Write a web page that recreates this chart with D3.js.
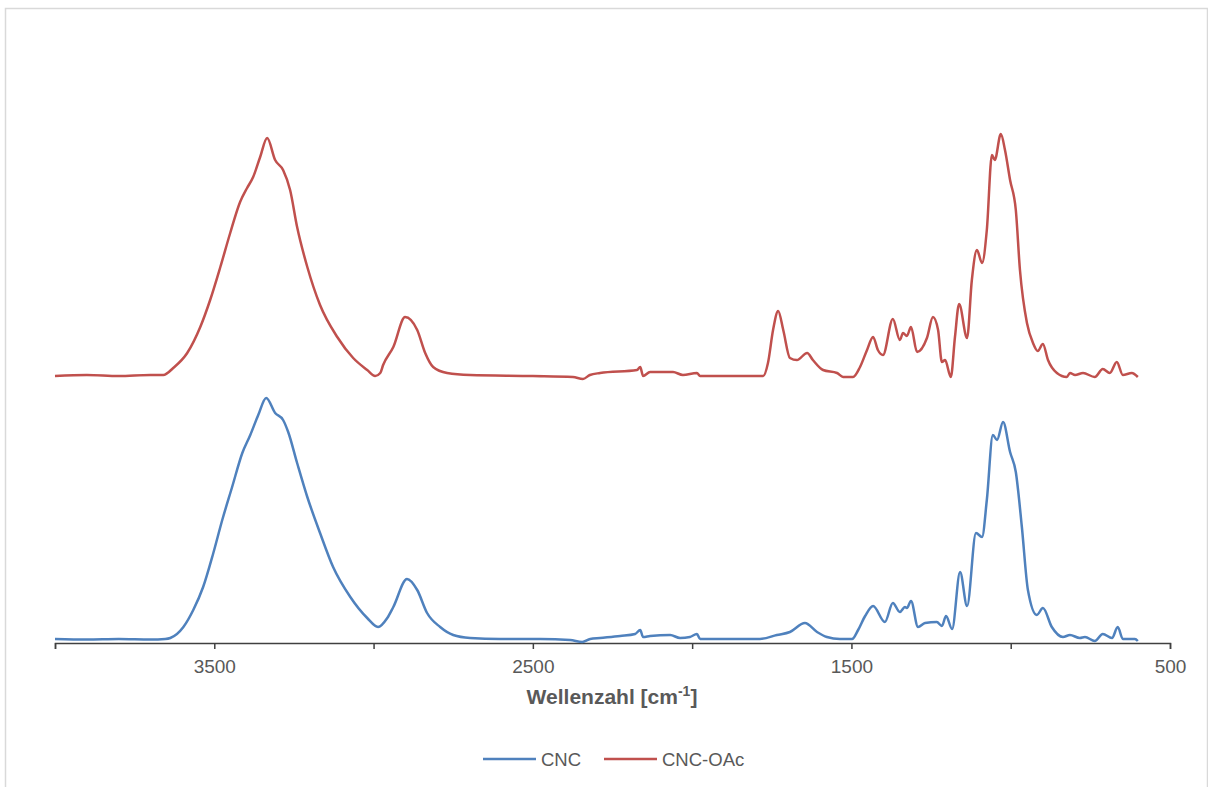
<!DOCTYPE html>
<html>
<head>
<meta charset="utf-8">
<script src="https://cdn.jsdelivr.net/npm/d3@7"></script>
<style>
  body { margin: 0; background: #fff; }
  text { font-family: "Liberation Sans", Arial, sans-serif; }
</style>
</head>
<body>
<script>
// IR spectra, wavenumber [cm-1] and absorbance (CNC-OAc drawn with offset)
var seriesNames = ["CNC", "CNC-OAc"];
var seriesColors = ["#4F81BD", "#C0504D"];

var cncWave = [4000, 3900, 3800, 3700, 3654, 3638, 3597, 3566, 3535, 3503, 3475, 3444, 3412, 3387, 3362, 3337,
  3309, 3284, 3268, 3240, 3208, 3168, 3127, 3073, 3020, 2986, 2957, 2938, 2895, 2863, 2832, 2791, 2750, 2697,
  2603, 2477, 2383, 2345, 2320, 2289, 2226, 2179, 2163, 2154, 2132, 2069, 2038, 2007, 1985, 1975, 1881, 1787,
  1734, 1693, 1646, 1608, 1577, 1536, 1498, 1479, 1457, 1432, 1395, 1370, 1348, 1332, 1326, 1313, 1291, 1269,
  1232, 1216, 1203, 1184, 1159, 1137, 1109, 1090, 1075, 1056, 1043, 1024, 1002, 984, 965, 946, 918, 899, 871,
  836, 814, 783, 767, 736, 711, 682, 664, 648, 610, 601];
var cncAbs = [0.012, 0.011, 0.012, 0.011, 0.012, 0.014, 0.036, 0.070, 0.116, 0.184, 0.250, 0.316, 0.384, 0.420, 0.460, 0.494,
  0.464, 0.450, 0.426, 0.364, 0.296, 0.224, 0.156, 0.096, 0.054, 0.036, 0.054, 0.076, 0.132, 0.110, 0.064, 0.036, 0.020, 0.014,
  0.012, 0.012, 0.010, 0.006, 0.012, 0.014, 0.018, 0.022, 0.030, 0.016, 0.018, 0.020, 0.014, 0.016, 0.022, 0.012, 0.012, 0.012,
  0.020, 0.026, 0.044, 0.026, 0.016, 0.012, 0.012, 0.030, 0.058, 0.078, 0.046, 0.084, 0.066, 0.076, 0.074, 0.088, 0.036, 0.044,
  0.046, 0.038, 0.058, 0.032, 0.146, 0.078, 0.224, 0.216, 0.290, 0.420, 0.410, 0.446, 0.386, 0.346, 0.236, 0.110, 0.060, 0.074, 0.036,
  0.016, 0.020, 0.014, 0.016, 0.008, 0.022, 0.014, 0.036, 0.012, 0.012, 0.008];

var oacWave = [4000, 3900, 3800, 3701, 3660, 3629, 3585, 3544, 3513, 3481, 3450, 3419, 3397, 3378, 3356, 3334,
  3309, 3284, 3262, 3240, 3208, 3168, 3114, 3064, 3020, 2995, 2979, 2970, 2938, 2901, 2863, 2838, 2813, 2769, 2697,
  2500, 2374, 2343, 2321, 2289, 2173, 2163, 2154, 2132, 2060, 2029, 1985, 1975, 1850,
  1777, 1762, 1746, 1730, 1714, 1693, 1671, 1639, 1621, 1589, 1545, 1526, 1495, 1473, 1451, 1432, 1417, 1401,
  1370, 1348, 1338, 1326, 1313, 1294, 1263, 1244, 1228, 1216, 1206, 1188, 1175, 1162, 1137, 1122, 1106, 1090,
  1075, 1059, 1050, 1031, 1018, 1002, 984, 971, 949, 930, 915, 899, 883, 855, 824, 814, 798, 773, 736, 711, 689,
  667, 648, 620, 601];
var oacAbs = [0.538, 0.540, 0.538, 0.540, 0.540, 0.554, 0.584, 0.636, 0.690, 0.756, 0.824, 0.886, 0.914, 0.936, 0.976, 1.014,
  0.970, 0.950, 0.910, 0.836, 0.756, 0.680, 0.616, 0.574, 0.550, 0.538, 0.544, 0.560, 0.596, 0.656, 0.630, 0.584, 0.556, 0.544, 0.540,
  0.538, 0.536, 0.532, 0.540, 0.544, 0.550, 0.556, 0.538, 0.546, 0.546, 0.540, 0.544, 0.538, 0.538,
  0.538, 0.564, 0.630, 0.668, 0.630, 0.574, 0.570, 0.584, 0.570, 0.550, 0.544, 0.536, 0.536, 0.556, 0.590, 0.616, 0.590, 0.580,
  0.652, 0.610, 0.624, 0.618, 0.636, 0.586, 0.614, 0.656, 0.630, 0.566, 0.570, 0.536, 0.616, 0.682, 0.614, 0.730, 0.790, 0.764,
  0.830, 0.980, 0.970, 1.022, 0.990, 0.930, 0.870, 0.750, 0.644, 0.604, 0.588, 0.602, 0.570, 0.544, 0.536, 0.544, 0.540, 0.544, 0.536, 0.552, 0.544,
  0.566, 0.540, 0.544, 0.536];

var xTicks = [4000, 3500, 3000, 2500, 2000, 1500, 1000, 500];
var xLabels = [3500, 2500, 1500, 500];

var width = 1208, height = 787;
var plotLeft = 55, plotRight = 1170, plotBottom = 643;

var svg = d3.select("body").append("svg")
    .attr("width", width)
    .attr("height", height);

// chart frame
svg.append("rect")
    .attr("x", 5.5).attr("y", 8.5)
    .attr("width", 1202).attr("height", 800)
    .attr("fill", "#fff")
    .attr("stroke", "#d9d9d9")
    .attr("stroke-width", 1.5);

var x = d3.scaleLinear().domain([4000, 500]).range([plotLeft, plotRight]);
var y = d3.scaleLinear().domain([0, 1]).range([645, 145]);

var xAxis = d3.axisBottom(x)
    .tickValues(xTicks)
    .tickSize(6)
    .tickFormat(function(d) { return xLabels.indexOf(d) >= 0 ? d : ""; });

var gx = svg.append("g")
    .attr("transform", "translate(0," + plotBottom + ")")
    .call(xAxis);
gx.select(".domain").attr("stroke", "#404040").attr("stroke-width", 1.5);
gx.selectAll(".tick line").attr("stroke", "#404040").attr("stroke-width", 1.5);
gx.selectAll(".tick text")
    .attr("fill", "#595959")
    .attr("font-size", 19)
    .attr("y", 12)
    .attr("dy", "0.95em")
    .style("font-family", "'Liberation Sans', Arial, sans-serif");

var title = svg.append("text")
    .attr("x", 612).attr("y", 704)
    .attr("text-anchor", "middle")
    .attr("fill", "#595959")
    .attr("font-size", 21)
    .attr("font-weight", "bold");
title.append("tspan").text("Wellenzahl [cm");
title.append("tspan").attr("font-size", 14).attr("dy", -8).text("-1");
title.append("tspan").attr("dy", 8).text("]");

var line = d3.line()
    .x(function(d) { return x(d[0]); })
    .y(function(d) { return y(d[1]); })
    .curve(d3.curveMonotoneX);

var series = [
  d3.zip(cncWave, cncAbs),
  d3.zip(oacWave, oacAbs)
];

svg.selectAll("path.spec")
    .data(series)
    .enter()
      .append("path")
      .attr("class", "spec")
      .attr("fill", "none")
      .attr("stroke", function(d, i) { return seriesColors[i]; })
      .attr("stroke-width", 2.5)
      .attr("stroke-linejoin", "round")
      .attr("d", line);

// legend
var legendX = [483, 604];
var leg = svg.selectAll("g.leg")
    .data(seriesNames)
    .enter()
      .append("g")
      .attr("class", "leg")
      .attr("transform", function(d, i) { return "translate(" + legendX[i] + ",759)"; });
leg.append("line")
    .attr("x1", 0).attr("x2", 53)
    .attr("stroke", function(d, i) { return seriesColors[i]; })
    .attr("stroke-width", 2.5);
leg.append("text")
    .attr("x", 58).attr("y", 7)
    .attr("fill", "#595959")
    .attr("font-size", 18.5)
    .text(function(d) { return d; });
</script>
</body>
</html>
